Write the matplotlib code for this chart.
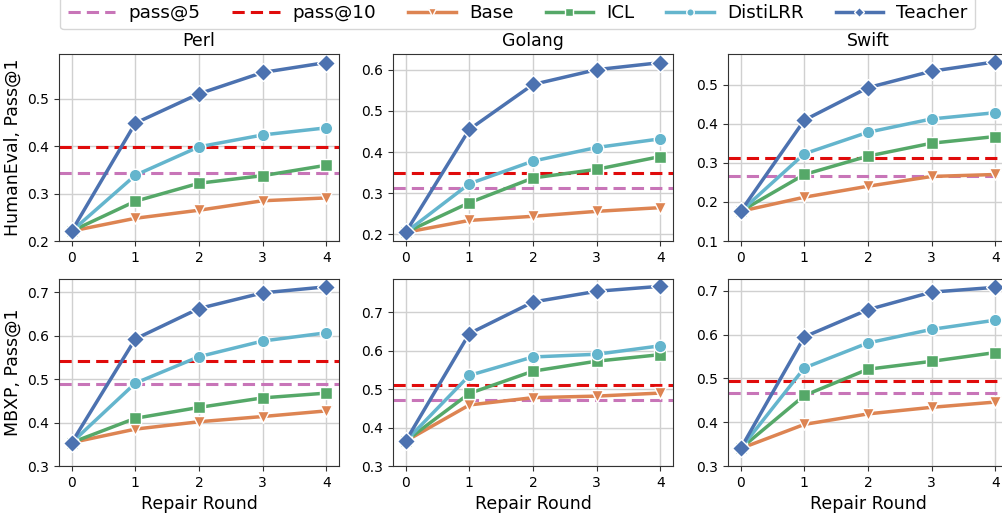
import numpy as np
import matplotlib
matplotlib.use("Agg")
import matplotlib.pyplot as plt

rounds = [0, 1, 2, 3, 4]
languages = ["Perl", "Golang", "Swift"]
benchmarks = ["HumanEval", "MBXP"]

# HumanEval, Pass@1
he_base = {
    "Perl":   [0.221, 0.248, 0.265, 0.285, 0.291],
    "Golang": [0.205, 0.234, 0.244, 0.256, 0.265],
    "Swift":  [0.176, 0.212, 0.240, 0.265, 0.270],
}
he_icl = {
    "Perl":   [0.221, 0.284, 0.322, 0.338, 0.360],
    "Golang": [0.205, 0.277, 0.337, 0.358, 0.389],
    "Swift":  [0.176, 0.270, 0.317, 0.350, 0.367],
}
he_distilrr = {
    "Perl":   [0.221, 0.339, 0.399, 0.424, 0.439],
    "Golang": [0.205, 0.323, 0.378, 0.411, 0.432],
    "Swift":  [0.176, 0.323, 0.378, 0.412, 0.428],
}
he_teacher = {
    "Perl":   [0.221, 0.449, 0.511, 0.556, 0.577],
    "Golang": [0.205, 0.455, 0.564, 0.600, 0.617],
    "Swift":  [0.176, 0.409, 0.492, 0.534, 0.558],
}
he_pass5 = {"Perl": 0.344, "Golang": 0.313, "Swift": 0.265}
he_pass10 = {"Perl": 0.398, "Golang": 0.350, "Swift": 0.311}

# MBXP, Pass@1
mb_base = {
    "Perl":   [0.354, 0.385, 0.402, 0.414, 0.427],
    "Golang": [0.365, 0.459, 0.478, 0.482, 0.490],
    "Swift":  [0.340, 0.395, 0.419, 0.434, 0.446],
}
mb_icl = {
    "Perl":   [0.354, 0.410, 0.435, 0.457, 0.468],
    "Golang": [0.365, 0.489, 0.547, 0.573, 0.590],
    "Swift":  [0.340, 0.461, 0.521, 0.539, 0.559],
}
mb_distilrr = {
    "Perl":   [0.354, 0.491, 0.552, 0.588, 0.607],
    "Golang": [0.365, 0.536, 0.584, 0.591, 0.613],
    "Swift":  [0.340, 0.524, 0.581, 0.612, 0.633],
}
mb_teacher = {
    "Perl":   [0.354, 0.593, 0.663, 0.699, 0.713],
    "Golang": [0.365, 0.645, 0.727, 0.755, 0.768],
    "Swift":  [0.340, 0.595, 0.657, 0.697, 0.708],
}
mb_pass5 = {"Perl": 0.488, "Golang": 0.471, "Swift": 0.467}
mb_pass10 = {"Perl": 0.541, "Golang": 0.510, "Swift": 0.494}

data = {
    "HumanEval": (he_base, he_icl, he_distilrr, he_teacher, he_pass5, he_pass10),
    "MBXP": (mb_base, mb_icl, mb_distilrr, mb_teacher, mb_pass5, mb_pass10),
}

ylims = {
    ("HumanEval", "Perl"): (0.2, 0.595),
    ("HumanEval", "Golang"): (0.184, 0.638),
    ("HumanEval", "Swift"): (0.1, 0.578),
    ("MBXP", "Perl"): (0.3, 0.731),
    ("MBXP", "Golang"): (0.3, 0.787),
    ("MBXP", "Swift"): (0.3, 0.727),
}

series_style = [
    ("Base", "#dd8452", "v"),
    ("ICL", "#55a868", "s"),
    ("DistiLRR", "#64b5cd", "o"),
    ("Teacher", "#4c72b0", "D"),
]
c_pass5 = "#c875b8"
c_pass10 = "#e00b0b"

fig = plt.figure(figsize=(10.02, 5.17), dpi=100)
W, H = 1002, 517
lefts = [59, 393, 728]
width = 280
tops = [54, 279]
height = 187

handles = None
for r, bench in enumerate(benchmarks):
    base, icl, dist, teach, p5, p10 = data[bench]
    for c, lang in enumerate(languages):
        ax = fig.add_axes([lefts[c] / W, 1 - (tops[r] + height) / H, width / W, height / H])
        ax.grid(True, color="#d0d0d0", linewidth=1.0)
        ax.set_axisbelow(True)
        h5 = ax.axhline(p5[lang], color=c_pass5, linestyle="--", linewidth=2.2, dashes=(4, 2), label="pass@5")
        h10 = ax.axhline(p10[lang], color=c_pass10, linestyle="--", linewidth=2.2, dashes=(4, 2), label="pass@10")
        hs = []
        for vals, (name, col, mk) in zip([base, icl, dist, teach], series_style):
            h, = ax.plot(rounds, vals[lang], color=col, marker=mk, markersize=9,
                         markeredgecolor="white", markeredgewidth=1.0, linewidth=2.5, label=name)
            hs.append(h)
        handles = [h5, h10] + hs
        ax.set_xlim(-0.2, 4.2)
        ax.set_ylim(*ylims[(bench, lang)])
        ax.set_xticks(rounds)
        ax.tick_params(labelsize=10, length=3.5, color="#333333")
        for s in ax.spines.values():
            s.set_color("#333333")
        if r == 0:
            ax.set_title(lang, fontsize=12.5, pad=6)
        else:
            ax.set_xlabel("Repair Round", fontsize=12.5)
        if c == 0:
            ax.set_ylabel(f"{bench}, Pass@1", fontsize=12.5)

fig.legend(handles=handles, labels=[h.get_label() for h in handles], ncol=6,
           loc="upper center", bbox_to_anchor=(0.5165, 1.024), fontsize=13.2,
           markerscale=0.6, handlelength=2.6, handletextpad=0.7, columnspacing=1.75,
           frameon=True)

plt.savefig("out.png", dpi=100)
